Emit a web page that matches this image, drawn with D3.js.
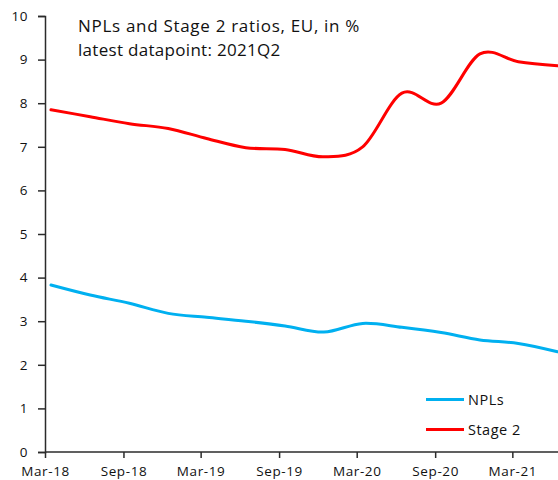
<!DOCTYPE html>
<html>
<head>
<meta charset="utf-8">
<script src="https://cdn.jsdelivr.net/npm/d3@7"></script>
<style>
  html, body { margin: 0; padding: 0; background: #fff; }
  svg { display: block; }
  text { font-family: "Open Sans", Lato, sans-serif; fill: #111; }
</style>
</head>
<body>
<svg id="chart" width="558" height="480"></svg>
<script>
// Quarterly observations (mid-month of each quarter-end month)
const quarters = ["2018-03","2018-06","2018-09","2018-12","2019-03","2019-06","2019-09",
                  "2019-12","2020-03","2020-06","2020-09","2020-12","2021-03","2021-06"];
const npls    = [3.83, 3.60, 3.41, 3.18, 3.09, 3.00, 2.89, 2.75, 2.95, 2.86, 2.74, 2.57, 2.49, 2.30];
const stage2  = [7.85, 7.69, 7.53, 7.42, 7.19, 6.98, 6.94, 6.77, 7.00, 8.23, 8.00, 9.13, 8.95, 8.86];
const xTickLabels = ["Mar-18","Sep-18","Mar-19","Sep-19","Mar-20","Sep-20","Mar-21"];
const yTicks = [0,1,2,3,4,5,6,7,8,9,10];
const seriesNames = ["NPLs", "Stage 2"];
const seriesColors = ["#00B0F0", "#FF0000"];
const titleLines = ["NPLs and Stage 2 ratios, EU, in %", "latest datapoint: 2021Q2"];

const svg = d3.select("#chart");
const parseMonth = d3.timeParse("%Y-%m");
const parseTick = d3.timeParse("%b-%y");
const mid = d => d3.timeDay.offset(parseMonth(d), 14);

const x0 = 45, yBottom = 452, yTop = 16;
const start = parseMonth("2018-03");
const end = mid("2021-06");
const pxPerDay = 311.7 / 731;
const x = d3.scaleTime()
  .domain([start, end])
  .range([x0, x0 + d3.timeDay.count(start, end) * pxPerDay]);
const y = d3.scaleLinear().domain([0, 10]).range([yBottom, yTop]);

// clip the plot area at the right edge
svg.append("defs").append("clipPath").attr("id", "plot")
  .append("rect").attr("x", x0).attr("y", 0).attr("width", 558 - x0).attr("height", yBottom);

const tickFont = "\"Open Sans\", sans-serif";

// y axis
const yAxis = d3.axisLeft(y).tickValues(yTicks).tickSize(7).tickPadding(10)
  .tickFormat(d3.format("d"));
const gy = svg.append("g").attr("transform", `translate(${x0},0)`).call(yAxis);
gy.select(".domain").attr("stroke", "#2b2b2b").attr("stroke-width", 1.5);
gy.selectAll(".tick line").attr("stroke", "#2b2b2b").attr("stroke-width", 1.5);
gy.selectAll(".tick text").attr("font-size", 13.5).style("font-family", tickFont)
  .attr("fill", "#111").attr("letter-spacing", 0.5);

// x axis
const xAxis = d3.axisBottom(x).tickValues(xTickLabels.map(parseTick)).tickSize(6).tickPadding(8)
  .tickFormat((d, i) => xTickLabels[i]);
const gx = svg.append("g").attr("transform", `translate(0,${yBottom})`).call(xAxis);
gx.select(".domain").attr("d", `M${x0},0H558`).attr("stroke", "#2b2b2b").attr("stroke-width", 1.5);
gx.selectAll(".tick line").attr("stroke", "#2b2b2b").attr("stroke-width", 1.5);
gx.selectAll(".tick text").attr("font-size", 13.5).style("font-family", tickFont)
  .attr("fill", "#111").attr("letter-spacing", 0.6);

// series lines
const line = d3.line()
  .x((d, i) => x(mid(quarters[i])))
  .y(d => y(d))
  .curve(d3.curveCatmullRom.alpha(0));

const plot = svg.append("g").attr("clip-path", "url(#plot)");
[npls, stage2].forEach((vals, k) => {
  plot.append("path")
    .datum(vals)
    .attr("d", line)
    .attr("fill", "none")
    .attr("stroke", seriesColors[k])
    .attr("stroke-width", 3)
    .attr("stroke-linecap", "round");
});

// title
svg.append("g").selectAll("text").data(titleLines).join("text")
  .attr("x", 78).attr("y", (d, i) => 32 + i * 23.5)
  .attr("font-size", 17)
  .attr("letter-spacing", (d, i) => i === 0 ? 0.7 : 0.3)
  .text(d => d);

// legend
const legend = svg.append("g");
seriesNames.forEach((name, k) => {
  const ly = 399.5 + k * 30;
  legend.append("line")
    .attr("x1", 426).attr("x2", 464).attr("y1", ly).attr("y2", ly)
    .attr("stroke", seriesColors[k]).attr("stroke-width", 3);
  legend.append("text")
    .attr("x", 468).attr("y", ly + 5.5)
    .attr("font-size", 14.5)
    .attr("letter-spacing", 0.5)
    .text(name);
});
</script>
</body>
</html>
